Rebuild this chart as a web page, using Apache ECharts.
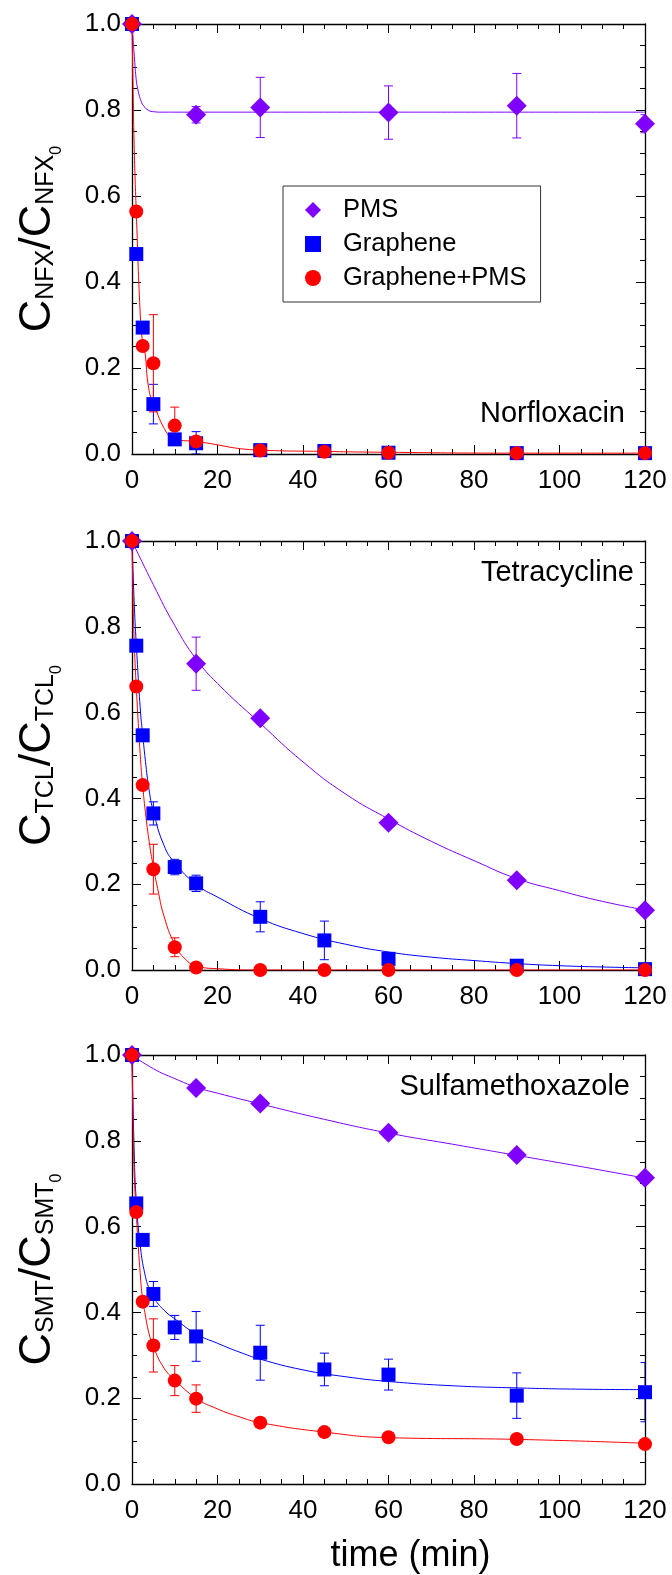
<!DOCTYPE html>
<html>
<head>
<meta charset="utf-8">
<script src="https://cdn.jsdelivr.net/npm/echarts@6/dist/echarts.min.js"></script>
<style>
  html, body { margin: 0; padding: 0; background: #fff; }
  #chart { width: 672px; height: 1575px; }
</style>
</head>
<body>
<div id="chart"></div>
<script>
// ---- sampling times (min) ----
const pmsTimes = [0, 15, 30, 60, 90, 120];
const sorbTimes = [0, 1, 2.5, 5, 10, 15, 30, 45, 60, 90, 120];

// ---- Norfloxacin ----
const nfxPms = [1.0, 0.789, 0.806, 0.794, 0.810, 0.768];
const nfxPmsErr = [0, 0.019, 0.070, 0.062, 0.075, 0.021];
const nfxGraphene = [1.0, 0.465, 0.294, 0.116, 0.034, 0.025, 0.009, 0.007, 0.003, 0.002, 0.002];
const nfxGrapheneErr = [0, 0, 0, 0.046, 0.013, 0.027, 0, 0, 0, 0, 0];
const nfxMix = [1.0, 0.564, 0.251, 0.211, 0.066, 0.029, 0.008, 0.005, 0.003, 0.002, 0.002];
const nfxMixErr = [0, 0, 0, 0.113, 0.043, 0, 0, 0, 0, 0, 0];
const nfxPmsFitT = [0, 0.25, 0.55, 0.95, 1.3, 2, 2.7, 3.9, 5.1, 7, 10, 30, 60, 90, 120];
const nfxPmsFit = [1.0, 0.963, 0.925, 0.874, 0.851, 0.824, 0.810, 0.799, 0.796, 0.795, 0.795, 0.795, 0.795, 0.795, 0.795];
const nfxMixFitT = [0, 0.25, 0.5, 1, 2, 2.5, 3, 3.9, 5, 8.2, 10, 15, 30, 45, 60, 90, 120];
const nfxMixFit = [1.0, 0.85, 0.72, 0.564, 0.31, 0.26, 0.24, 0.153, 0.118, 0.048, 0.034, 0.029, 0.009, 0.006, 0.004, 0.002, 0.002];

// ---- Tetracycline ----
const tclPms = [1.0, 0.714, 0.587, 0.343, 0.209, 0.139];
const tclPmsErr = [0, 0.062, 0, 0, 0, 0];
const tclGraphene = [1.0, 0.756, 0.547, 0.365, 0.240, 0.202, 0.124, 0.069, 0.026, 0.010, 0.002];
const tclGrapheneErr = [0, 0, 0, 0.027, 0.018, 0.019, 0.035, 0.045, 0, 0, 0];
const tclMix = [1.0, 0.661, 0.431, 0.235, 0.053, 0.006, 0.0, 0.0, 0.0, 0.0, 0.0];
const tclMixErr = [0, 0, 0, 0.058, 0.022, 0, 0, 0, 0, 0, 0];
const tclPmsFitT = [0, 5, 10, 15, 20, 30, 40, 50, 60, 70, 80, 90, 100, 110, 120];
const tclPmsFit = [1.0, 0.898, 0.803, 0.725, 0.668, 0.575, 0.485, 0.41, 0.352, 0.30, 0.255, 0.213, 0.185, 0.16, 0.14];
const tclGrapheneFitT = [0, 0.5, 1, 2, 2.5, 3, 4, 5, 7.5, 10, 15, 20, 30, 40, 50, 60, 70, 80, 90, 100, 110, 120];
const tclGrapheneFit = [1.0, 0.86, 0.76, 0.60, 0.55, 0.50, 0.42, 0.37, 0.29, 0.25, 0.20, 0.17, 0.12, 0.085, 0.06, 0.042, 0.03, 0.022, 0.015, 0.01, 0.007, 0.005];
const tclMixFitT = [0, 0.25, 0.5, 1, 2, 2.5, 3, 4, 5, 6, 7.5, 10, 12.5, 15, 20, 30, 60, 120];
const tclMixFit = [1.0, 0.86, 0.77, 0.66, 0.49, 0.43, 0.38, 0.30, 0.24, 0.19, 0.125, 0.06, 0.025, 0.01, 0.003, 0.0, 0.0, 0.0];

// ---- Sulfamethoxazole ----
const smtPms = [1.0, 0.923, 0.887, 0.819, 0.767, 0.714];
const smtPmsErr = [0, 0, 0, 0, 0.01, 0];
const smtGraphene = [1.0, 0.654, 0.569, 0.443, 0.365, 0.344, 0.306, 0.267, 0.255, 0.206, 0.214];
const smtGrapheneErr = [0, 0, 0, 0.029, 0.028, 0.058, 0.064, 0.038, 0.036, 0.053, 0.069];
const smtMix = [1.0, 0.634, 0.425, 0.323, 0.241, 0.199, 0.143, 0.121, 0.109, 0.105, 0.093];
const smtMixErr = [0, 0, 0, 0.062, 0.035, 0.032, 0.011, 0, 0, 0, 0];
const smtPmsFitT = [0, 5, 10, 15, 20, 30, 45, 60, 75, 90, 105, 120];
const smtPmsFit = [1.0, 0.968, 0.945, 0.925, 0.911, 0.886, 0.85, 0.818, 0.792, 0.766, 0.74, 0.713];
const smtGrapheneFitT = [0, 0.5, 1, 2, 3, 4, 5, 7.5, 10, 15, 20, 25, 30, 40, 50, 60, 75, 90, 105, 120];
const smtGrapheneFit = [1.0, 0.78, 0.66, 0.55, 0.49, 0.455, 0.435, 0.405, 0.385, 0.35, 0.328, 0.308, 0.291, 0.266, 0.25, 0.239, 0.229, 0.224, 0.221, 0.22];
const smtMixFitT = [0, 0.25, 0.5, 1, 2, 2.5, 3, 4, 5, 7.5, 10, 15, 20, 25, 30, 45, 60, 90, 120];
const smtMixFit = [1.0, 0.84, 0.73, 0.63, 0.48, 0.43, 0.40, 0.35, 0.32, 0.27, 0.243, 0.20, 0.175, 0.157, 0.143, 0.121, 0.108, 0.104, 0.095];

// ---- axis ticks ----
const xMin = 0, xMax = 120, xStep = 20;
const yMin = 0, yMax = 1, yStep = 0.2;

const FONT = 'Liberation Sans, Arial, Helvetica, sans-serif';
const C_PMS = '#8000ff', C_GRA = '#0000ff', C_MIX = '#ff0000';

const panels = [
  { label: 'Norfloxacin', sub: 'NFX', top: 24, height: 430, labelTop: 399, labelRight: 47,
    pms: nfxPms, pmsErr: nfxPmsErr, gra: nfxGraphene, graErr: nfxGrapheneErr, mix: nfxMix, mixErr: nfxMixErr,
    fits: [[nfxPmsFitT, nfxPmsFit, C_PMS], [nfxMixFitT, nfxMixFit, C_MIX]] },
  { label: 'Tetracycline', sub: 'TCL', top: 541, height: 429, labelTop: 558, labelRight: 38,
    pms: tclPms, pmsErr: tclPmsErr, gra: tclGraphene, graErr: tclGrapheneErr, mix: tclMix, mixErr: tclMixErr,
    fits: [[tclPmsFitT, tclPmsFit, C_PMS], [tclGrapheneFitT, tclGrapheneFit, C_GRA], [tclMixFitT, tclMixFit, C_MIX]] },
  { label: 'Sulfamethoxazole', sub: 'SMT', top: 1055, height: 429, labelTop: 1072, labelRight: 42,
    pms: smtPms, pmsErr: smtPmsErr, gra: smtGraphene, graErr: smtGrapheneErr, mix: smtMix, mixErr: smtMixErr,
    fits: [[smtPmsFitT, smtPmsFit, C_PMS], [smtGrapheneFitT, smtGrapheneFit, C_GRA], [smtMixFitT, smtMixFit, C_MIX]] }
];

const axisLine = { show: true, onZero: false, lineStyle: { color: '#000', width: 1.3 } };
const majorTick = { show: true, inside: true, length: 9, lineStyle: { color: '#000', width: 1 } };
const minorTick = { show: true, splitNumber: 4, length: 5, lineStyle: { color: '#000', width: 1 } };

const grid = [], xAxis = [], yAxis = [], series = [], title = [];

function errorBars(times, vals, errs, color, gi) {
  const data = times.map((t, i) => [t, vals[i], errs[i]]).filter(d => d[2] > 0);
  return {
    type: 'custom', xAxisIndex: 2 * gi, yAxisIndex: 2 * gi, z: 3, silent: true,
    clip: true,
    data: data,
    renderItem: function (params, api) {
      const x = api.value(0), y = api.value(1), e = api.value(2);
      const hi = api.coord([x, y + e]);
      const lo = api.coord([x, Math.max(0, y - e)]);
      const cap = 4.5;
      const st = { stroke: color, lineWidth: 1 };
      return { type: 'group', children: [
        { type: 'line', shape: { x1: hi[0], y1: hi[1], x2: lo[0], y2: lo[1] }, style: st },
        { type: 'line', shape: { x1: hi[0] - cap, y1: hi[1], x2: hi[0] + cap, y2: hi[1] }, style: st },
        { type: 'line', shape: { x1: lo[0] - cap, y1: lo[1], x2: lo[0] + cap, y2: lo[1] }, style: st }
      ] };
    }
  };
}

panels.forEach((p, gi) => {
  grid.push({ left: 132, right: 27, top: p.top, height: p.height, containLabel: false });
  const last = gi === panels.length - 1;
  xAxis.push({
    type: 'value', gridIndex: gi, position: 'bottom', min: xMin, max: xMax, interval: xStep,
    axisLine, axisTick: majorTick, minorTick, splitLine: { show: false },
    axisLabel: { fontSize: 26, color: '#000', fontFamily: FONT, margin: 14 },
    name: last ? 'time (min)' : '', nameLocation: 'middle', nameGap: 54,
    nameTextStyle: { fontSize: 36, color: '#000', fontFamily: FONT, padding: [0, 0, 0, 44] }
  });
  xAxis.push({
    type: 'value', gridIndex: gi, position: 'top', min: xMin, max: xMax, interval: xStep,
    axisLine, axisTick: majorTick, minorTick, splitLine: { show: false }, axisLabel: { show: false }
  });
  yAxis.push({
    type: 'value', gridIndex: gi, position: 'left', min: yMin, max: yMax, interval: yStep,
    axisLine, axisTick: majorTick, minorTick, splitLine: { show: false },
    axisLabel: { fontSize: 26, color: '#000', fontFamily: FONT, margin: 11, formatter: v => v.toFixed(1) },
    name: '{m|C}{s|' + p.sub + '}{m|/C}{s|' + p.sub + '}{z|0}',
    nameLocation: 'middle', nameGap: 62, nameRotate: 90,
    nameTextStyle: {
      color: '#000', fontFamily: FONT,
      rich: {
        m: { fontSize: 45, lineHeight: 45, padding: [0, 0, 10, 0], verticalAlign: 'bottom', color: '#000', fontFamily: FONT },
        s: { fontSize: 25, lineHeight: 25, padding: [0, 0, 11, 0], verticalAlign: 'bottom', color: '#000', fontFamily: FONT },
        z: { fontSize: 16, lineHeight: 16, padding: [0, 0, 5, 0], verticalAlign: 'bottom', color: '#000', fontFamily: FONT }
      }
    }
  });
  yAxis.push({
    type: 'value', gridIndex: gi, position: 'right', min: yMin, max: yMax, interval: yStep,
    axisLine, axisTick: majorTick, minorTick, splitLine: { show: false }, axisLabel: { show: false }
  });

  // fitted curves
  p.fits.forEach(([ts, vs, color]) => {
    series.push({
      type: 'line', name: 'fit', xAxisIndex: 2 * gi, yAxisIndex: 2 * gi, z: 2,
      data: ts.map((t, i) => [t, vs[i]]), showSymbol: false, symbol: 'none',
      smooth: 0.5, silent: true,
      lineStyle: { color: color, width: 1 }
    });
  });

  // error bars
  series.push(errorBars(pmsTimes, p.pms, p.pmsErr, C_PMS, gi));
  series.push(errorBars(sorbTimes, p.gra, p.graErr, C_GRA, gi));
  series.push(errorBars(sorbTimes, p.mix, p.mixErr, C_MIX, gi));

  // measured points
  series.push({ type: 'scatter', name: 'PMS', xAxisIndex: 2 * gi, yAxisIndex: 2 * gi, z: 4,
    symbol: 'diamond', symbolSize: 20, itemStyle: { color: C_PMS, opacity: 1 },
    data: pmsTimes.map((t, i) => [t, p.pms[i]]) });
  series.push({ type: 'scatter', name: 'Graphene', xAxisIndex: 2 * gi, yAxisIndex: 2 * gi, z: 5,
    symbol: 'rect', symbolSize: 14, itemStyle: { color: C_GRA, opacity: 1 },
    data: sorbTimes.map((t, i) => [t, p.gra[i]]) });
  series.push({ type: 'scatter', name: 'Graphene+PMS', xAxisIndex: 2 * gi, yAxisIndex: 2 * gi, z: 6,
    symbol: 'circle', symbolSize: 14, itemStyle: { color: C_MIX, opacity: 1 },
    data: sorbTimes.map((t, i) => [t, p.mix[i]]) });

  title.push({ text: p.label, right: p.labelRight, top: p.labelTop, padding: 0,
    textStyle: { fontSize: 29, fontWeight: 'normal', color: '#000', fontFamily: FONT } });
});

const chart = echarts.init(document.getElementById('chart'), null, { renderer: 'canvas' });
chart.setOption({
  animation: false,
  backgroundColor: '#fff',
  textStyle: { fontFamily: FONT },
  title,
  legend: {
    orient: 'vertical', left: 283, top: 186,
    data: ['PMS', 'Graphene', 'Graphene+PMS'],
    itemWidth: 16, itemHeight: 16, itemGap: 8,
    padding: [11, 14, 11, 22],
    borderColor: '#333', borderWidth: 1, borderRadius: 0,
    selectedMode: false,
    textStyle: { fontSize: 25.5, color: '#000', fontFamily: FONT, padding: [0, 0, 0, 17] }
  },
  grid, xAxis, yAxis, series
});
</script>
</body>
</html>
